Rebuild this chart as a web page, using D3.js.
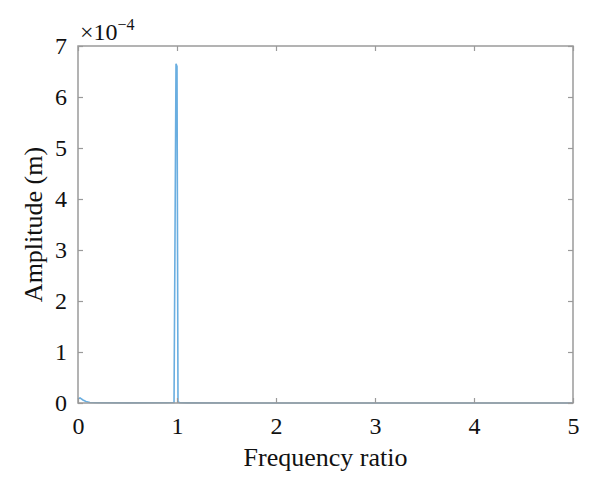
<!DOCTYPE html>
<html>
<head>
<meta charset="utf-8">
<script src="https://cdn.jsdelivr.net/npm/d3@7"></script>
<style>
  body { margin: 0; background: #fff; }
  text { font-family: "Liberation Serif", "DejaVu Serif", serif; fill: #111; }
</style>
</head>
<body>
<script>
"use strict";

// frequency ratio samples and amplitude (x 1e-4 m)
var freq = [0, 0.02, 0.05, 0.08, 0.12, 0.2, 0.5, 0.9, 0.97, 0.99, 1.0, 1.01, 1.03, 1.1, 2, 3, 4, 5];
var amp  = [0.08, 0.1, 0.06, 0.03, 0.01, 0.005, 0.002, 0.004, 0.01, 6.65, 6.6, 0.02, 0.005, 0.002, 0.001, 0.001, 0.001, 0.001];
var xTicks = [0, 1, 2, 3, 4, 5];
var yTicks = [0, 1, 2, 3, 4, 5, 6, 7];

window.onload = function() {
  var width = 600, height = 494;
  var margin = {left: 78, right: 27, top: 46, bottom: 91};

  var svg = d3.select("body").append("svg")
      .attr("width", width)
      .attr("height", height);

  var x = d3.scaleLinear().domain([0, 5]).range([margin.left, width - margin.right]);
  var y = d3.scaleLinear().domain([0, 7]).range([height - margin.bottom, margin.top]);

  var axisColor = "#9a9a9a";

  // data line
  var line = d3.line().x(function(d, i) { return x(freq[i]); }).y(function(d) { return y(d); });
  svg.append("path")
      .datum(amp)
      .attr("d", line)
      .attr("fill", "none")
      .attr("stroke", "#6aaee0")
      .attr("stroke-width", 1.6);

  // box
  svg.append("rect")
      .attr("x", x(0)).attr("y", y(7))
      .attr("width", x(5) - x(0)).attr("height", y(0) - y(7))
      .attr("fill", "none")
      .attr("stroke", axisColor)
      .attr("stroke-width", 1.5);

  var xAxis = d3.axisBottom(x).tickValues(xTicks).tickSize(-5).tickPadding(14).tickFormat(d3.format("d"));
  var gx = svg.append("g").attr("transform", "translate(0," + y(0) + ")").call(xAxis);
  var xTop = d3.axisTop(x).tickValues(xTicks).tickSize(-5).tickFormat("");
  var gxt = svg.append("g").attr("transform", "translate(0," + y(7) + ")").call(xTop);

  var yAxis = d3.axisLeft(y).tickValues(yTicks).tickSize(-5).tickPadding(11).tickFormat(d3.format("d"));
  var gy = svg.append("g").attr("transform", "translate(" + x(0) + ",0)").call(yAxis);
  var yRight = d3.axisRight(y).tickValues(yTicks).tickSize(-5).tickFormat("");
  var gyr = svg.append("g").attr("transform", "translate(" + x(5) + ",0)").call(yRight);

  [gx, gxt, gy, gyr].forEach(function(g) {
    g.select(".domain").remove();
    g.selectAll(".tick line").attr("stroke", axisColor).attr("stroke-width", 1.2);
    g.selectAll(".tick text").style("font-size", "24px").attr("fill", "#111")
      .style("font-family", "'Liberation Serif', serif");
  });

  // exponent label
  var ex = svg.append("text").attr("x", 80).attr("y", 40).style("font-size", "24px");
  ex.append("tspan").text("\u00d710");
  ex.append("tspan").attr("dy", -10).style("font-size", "16px").text("\u22124");

  svg.append("text")
      .attr("x", (x(0) + x(5)) / 2).attr("y", 466)
      .attr("text-anchor", "middle")
      .style("font-size", "26px")
      .text("Frequency ratio");

  svg.append("text")
      .attr("transform", "translate(42," + (y(3.5)) + ") rotate(-90)")
      .attr("text-anchor", "middle")
      .style("font-size", "26px")
      .text("Amplitude (m)");
};
</script>
</body>
</html>
